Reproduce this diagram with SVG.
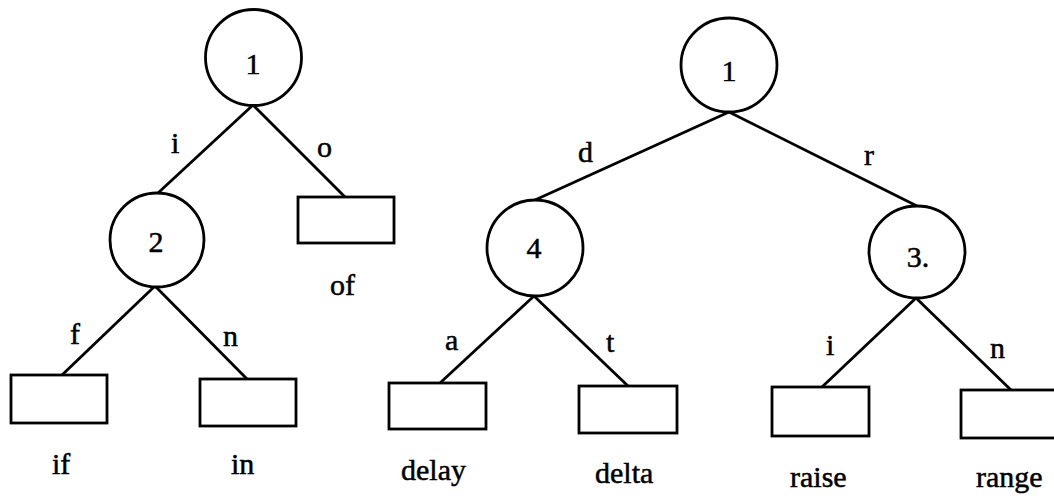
<svg xmlns="http://www.w3.org/2000/svg" width="1054" height="498" viewBox="0 0 1054 498">
<style>
.n{fill:#fff;stroke:#000;stroke-width:2.8}
.e{stroke:#000;stroke-width:2.8;fill:none}
.t{font-family:"Liberation Serif","Times New Roman",serif;font-size:30px;fill:#000;stroke:#000;stroke-width:0.5}
.m{text-anchor:middle}
</style>
<rect width="1054" height="498" fill="#fff"/>
<g id="connectors">
<line class="e" x1="253" y1="105" x2="158" y2="193"/>
<line class="e" x1="253" y1="105" x2="345" y2="197"/>
<line class="e" x1="155" y1="286" x2="62" y2="375"/>
<line class="e" x1="155" y1="286" x2="247" y2="379"/>
<line class="e" x1="729" y1="112" x2="535" y2="200"/>
<line class="e" x1="729" y1="112" x2="917" y2="206"/>
<line class="e" x1="534" y1="296" x2="440" y2="383"/>
<line class="e" x1="534" y1="296" x2="628" y2="386"/>
<line class="e" x1="916" y1="298" x2="822" y2="387"/>
<line class="e" x1="916" y1="298" x2="1011" y2="390"/>
<text class="t" x="171" y="153">i</text>
<text class="t" x="317" y="157">o</text>
<text class="t" x="70" y="344">f</text>
<text class="t" x="223" y="346">n</text>
<text class="t" x="578" y="162">d</text>
<text class="t" x="864" y="165">r</text>
<text class="t" x="445" y="350">a</text>
<text class="t" x="606" y="352">t</text>
<text class="t" x="826" y="355">i</text>
<text class="t" x="990" y="358">n</text>
</g>
<g id="left-root"><circle class="n" cx="253.5" cy="57.5" r="48"/><text class="t m" x="253" y="74">1</text></g>
<g id="left-2"><circle class="n" cx="157" cy="240" r="47"/><text class="t m" x="156" y="252">2</text></g>
<g id="leaf-of"><rect class="n" x="298" y="197" width="96" height="46"/><text class="t" x="330" y="295">of</text></g>
<g id="leaf-if"><rect class="n" x="11" y="375" width="96" height="48"/><text class="t" x="52" y="474">if</text></g>
<g id="leaf-in"><rect class="n" x="200" y="379" width="96" height="47"/><text class="t" x="231" y="474">in</text></g>
<g id="right-root"><ellipse class="n" cx="729" cy="65" rx="48" ry="47"/><text class="t m" x="729" y="81">1</text></g>
<g id="right-4"><ellipse class="n" cx="535" cy="248" rx="48" ry="48"/><text class="t m" x="534" y="258">4</text></g>
<g id="right-3"><ellipse class="n" cx="917" cy="252" rx="48" ry="46"/><text class="t m" x="918" y="267">3.</text></g>
<g id="leaf-delay"><rect class="n" x="389" y="383" width="97" height="46"/><text class="t" x="401" y="480">delay</text></g>
<g id="leaf-delta"><rect class="n" x="579" y="386" width="98" height="47"/><text class="t" x="595" y="483">delta</text></g>
<g id="leaf-raise"><rect class="n" x="772" y="387" width="97" height="49"/><text class="t" x="790" y="487">raise</text></g>
<g id="leaf-range"><rect class="n" x="961" y="390" width="100" height="48"/><text class="t" x="976" y="487">range</text></g>
</svg>
